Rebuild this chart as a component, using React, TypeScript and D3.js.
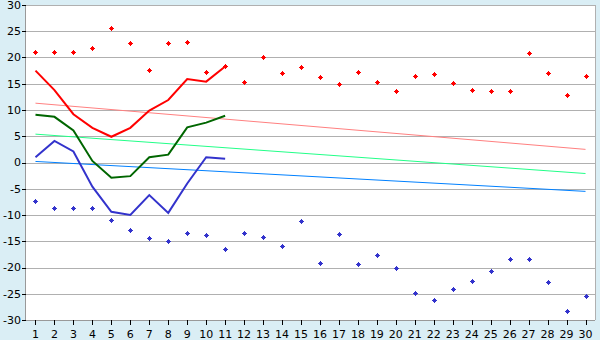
import React from "react";
import * as d3 from "d3";

const categories = d3.range(1, 31).map(String);
const maxPoints = [21.0, 21.0, 21.0, 21.9, 25.6, 22.8, 17.6, 22.7, 22.9, 17.2, 18.4, 15.3, 20.0, 17.0, 18.1, 16.2, 14.9, 17.2, 15.3, 13.6, 16.4, 16.8, 15.1, 13.9, 13.7, 13.6, 20.8, 17.0, 12.8, 16.4];
const minPoints = [-7.4, -8.7, -8.7, -8.7, -10.9, -12.9, -14.4, -14.9, -13.5, -13.9, -16.4, -13.5, -14.1, -16.0, -11.2, -19.2, -13.7, -19.4, -17.7, -20.0, -24.9, -26.1, -24.0, -22.6, -20.7, -18.3, -18.4, -22.8, -28.2, -25.5];
const maxLine = [17.5, 13.8, 9.2, 6.6, 4.9, 6.6, 9.9, 11.9, 15.9, 15.4, 18.3];
const avgLine = [9.1, 8.7, 6.1, 0.3, -2.9, -2.6, 1.0, 1.5, 6.7, 7.6, 8.9];
const minLine = [1.0, 4.1, 2.1, -4.6, -9.4, -10.0, -6.2, -9.6, -4.0, 1.0, 0.7];
const maxTrend = [11.3, 2.5];
const avgTrend = [5.4, -2.1];
const minTrend = [0.2, -5.5];
const yTicks = d3.range(-30, 31, 5);

const W = 600, H = 340;
const M = { left: 26, right: 5, top: 5, bottom: 20 };

export default function App() {
  const x = d3.scaleBand().domain(categories).range([M.left, W - M.right]);
  const xc = (i: number) => (x(categories[i]) as number) + x.bandwidth() / 2;
  const y = d3.scaleLinear().domain([-30, 30]).range([H - M.bottom, M.top]);
  const line = d3.line<number>().x((_, i) => xc(i)).y((d) => y(d));
  const trend = (t: number[]) =>
    d3.line<[number, number]>().x((d) => xc(d[0])).y((d) => y(d[1]))([[0, t[0]], [categories.length - 1, t[1]]]) as string;
  const plus = "M-0.5,-2.5h1v1h1v1h1v1h-1v1h-1v1h-1v-1h-1v-1h-1v-1h1v-1h1z";
  const font = "'DejaVu Sans', Verdana, sans-serif";
  const mk = (v: number, i: number) => `translate(${Math.round(xc(i)) + 0.5},${Math.round(y(v)) + 0.5})`;
  return (
    <svg width={W} height={H} style={{ display: "block", position: "absolute", left: 0, top: 0 }}>
      <rect x={0} y={0} width={W} height={H} fill="#daeef5" />
      <rect x={M.left} y={M.top} width={W - M.left - M.right} height={H - M.top - M.bottom} fill="#fff" />
      {yTicks.map((t) => (
        <line key={t} x1={M.left} x2={W - M.right} y1={Math.round(y(t)) + 0.5} y2={Math.round(y(t)) + 0.5} stroke="#b0b0b0" strokeWidth={1} />
      ))}
      <line x1={W - M.right + 0.5} x2={W - M.right + 0.5} y1={M.top} y2={H - M.bottom} stroke="#b0b0b0" />
      <line x1={M.left - 0.5} x2={M.left - 0.5} y1={M.top} y2={H - M.bottom + 1} stroke="#999" />
      <line x1={M.left} x2={W - M.right} y1={Math.round(y(-30)) + 0.5} y2={Math.round(y(-30)) + 0.5} stroke="#999" />
      {yTicks.map((t) => (
        <g key={"yt" + t}>
          <line x1={M.left - 4} x2={M.left} y1={Math.round(y(t)) + 0.5} y2={Math.round(y(t)) + 0.5} stroke="#000" />
          <text x={M.left - 5} y={y(t)} dy="0.35em" textAnchor="end" fontFamily={font} fontSize={11} fill="#000">
            {String(t)}
          </text>
        </g>
      ))}
      {categories.map((c, i) => (
        <g key={"xt" + c}>
          <line x1={Math.round(xc(i)) + 0.5} x2={Math.round(xc(i)) + 0.5} y1={y(-30)} y2={y(-30) + 5} stroke="#000" />
          <text x={xc(i)} y={H - 2} textAnchor="middle" fontFamily={font} fontSize={11} fill="#000">{c}</text>
        </g>
      ))}
      <path d={trend(maxTrend)} fill="none" stroke="#ff8080" strokeWidth={1} />
      <path d={trend(avgTrend)} fill="none" stroke="#22ff88" strokeWidth={1} />
      <path d={trend(minTrend)} fill="none" stroke="#0080ff" strokeWidth={1} />
      <path d={line(maxLine) as string} fill="none" stroke="#ff0000" strokeWidth={2} />
      <path d={line(avgLine) as string} fill="none" stroke="#006600" strokeWidth={2} />
      <path d={line(minLine) as string} fill="none" stroke="#3333cc" strokeWidth={2} />
      {maxPoints.map((v, i) => (
        <path key={"mx" + i} d={plus} transform={mk(v, i)} fill="#ff0000" />
      ))}
      {minPoints.map((v, i) => (
        <path key={"mn" + i} d={plus} transform={mk(v, i)} fill="#3333cc" />
      ))}
    </svg>
  );
}
